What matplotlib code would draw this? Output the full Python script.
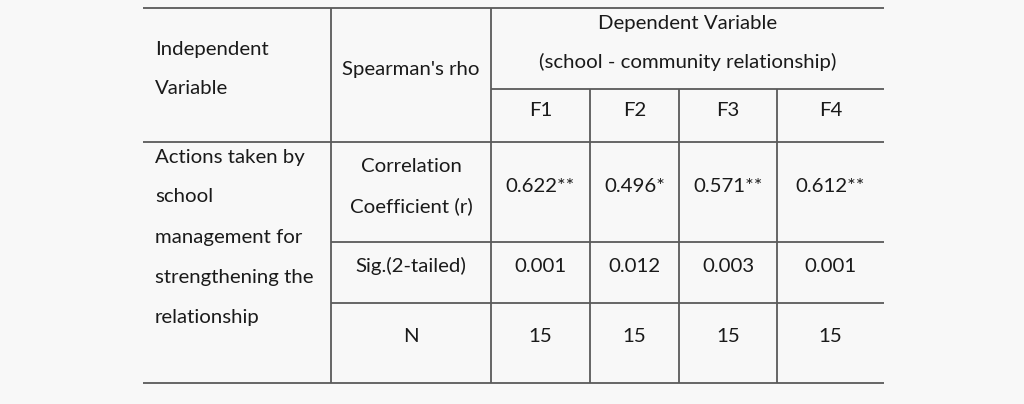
import matplotlib.pyplot as plt

# Datos de la tabla
indep_lines = ["Actions taken by", "school", "management for",
               "strengthening the", "relationship"]
factors = ["F1", "F2", "F3", "F4"]
corr_vals = ["0.622**", "0.496*", "0.571**", "0.612**"]
sig_vals = ["0.001", "0.012", "0.003", "0.001"]
n_vals = ["15", "15", "15", "15"]

W, H = 1024, 404
bg = "#f8f8f8"
line_c = "#5a5a5a"
txt_c = "#1a1a1a"
fs = 14.7

plt.rcParams['font.family'] = ['Lato', 'DejaVu Sans']

fig = plt.figure(figsize=(W / 100, H / 100), dpi=100, facecolor=bg)
ax = fig.add_axes([0, 0, 1, 1])
ax.set_xlim(0, W)
ax.set_ylim(H, 0)
ax.axis("off")
ax.set_facecolor(bg)

# Geometría (píxeles)
x_left, x_right = 143, 884
x_rho, x_dep = 331, 491
col_edges = [491, 590, 679, 777, 884]
y_top, y_sub, y_head, y_r1, y_r2, y_bot = 8, 89, 142, 242, 303, 383
lw = 1.3


def hline(y, x0, x1):
    ax.plot([x0, x1], [y, y], color=line_c, lw=lw, solid_capstyle="butt")


def vline(x, y0, y1):
    ax.plot([x, x], [y0, y1], color=line_c, lw=lw, solid_capstyle="butt")


hline(y_top, x_left, x_right)
hline(y_sub, x_dep, x_right)
hline(y_head, x_left, x_right)
hline(y_r1, x_rho, x_right)
hline(y_r2, x_rho, x_right)
hline(y_bot, x_left, x_right)
vline(x_rho, y_top, y_bot)
vline(x_dep, y_top, y_bot)
for x in col_edges[1:-1]:
    vline(x, y_sub, y_bot)


def put(x, y, s, ha="center"):
    ax.text(x, y, s, ha=ha, va="center", fontsize=fs, color=txt_c)


# Encabezados
put(155, 49, "Independent", ha="left")
put(155, 89, "Variable", ha="left")
put((x_rho + x_dep) / 2, 70, "Spearman's rho")
put((x_dep + x_right) / 2, 23, "Dependent Variable")
put((x_dep + x_right) / 2, 62, "(school - community relationship)")

centers = [(col_edges[i] + col_edges[i + 1]) / 2 for i in range(4)]
for c, f in zip(centers, factors):
    put(c, 110, f)

# Columna de variable independiente
for i, s in enumerate(indep_lines):
    put(155, 157 + 40 * i, s, ha="left")

# Filas de estadísticos
put((x_rho + x_dep) / 2, 166, "Correlation")
put((x_rho + x_dep) / 2, 206, "Coefficient (r)")
put((x_rho + x_dep) / 2, 266, "Sig.(2-tailed)")
put((x_rho + x_dep) / 2, 337, "N")

for c, a, b, n in zip(centers, corr_vals, sig_vals, n_vals):
    put(c, 186, a)
    put(c, 266, b)
    put(c, 337, n)

fig.savefig("out.png", dpi=100, facecolor=bg)
